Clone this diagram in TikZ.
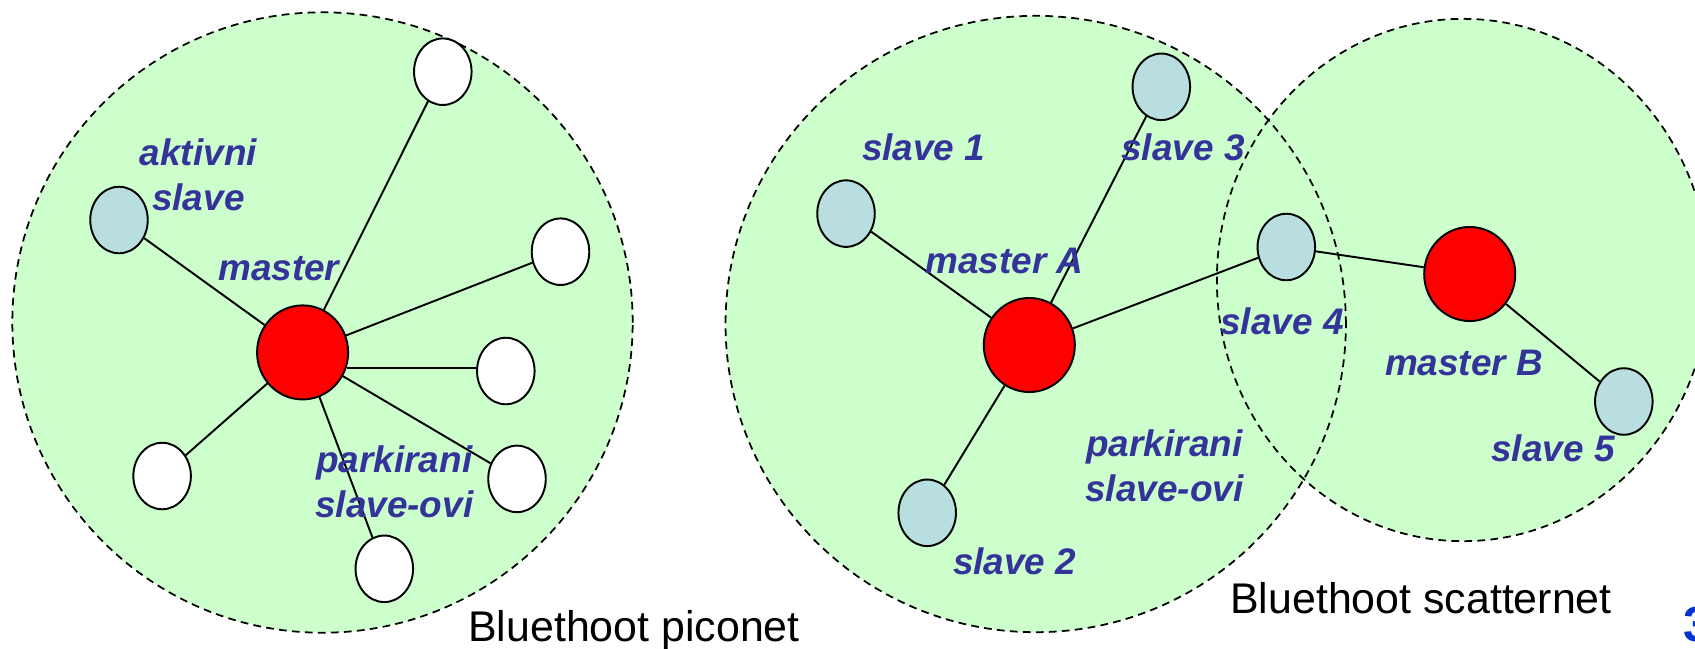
\documentclass[tikz,border=0pt]{standalone}
\usepackage{fontspec}
\setmainfont{Liberation Sans}
\usetikzlibrary{calc, shapes}

\definecolor{zonegreen}{HTML}{CCFFCC}
\definecolor{slaveblue}{HTML}{B9DEE0}
\definecolor{labelblue}{HTML}{333399}
\definecolor{pageblue}{HTML}{0033CC}

\begin{document}
\begin{tikzpicture}[x = 0.01cm, y = -0.01cm,
        zone/.style = {dash pattern = on 2.2pt off 1.5pt, line width = 0.5pt},
        masternode/.style = {draw, ellipse, fill = red, minimum width = 0.91cm, minimum height = 0.94cm, inner sep = 0pt, line width = 0.55pt},
        slavenode/.style = {draw, ellipse, minimum width = 0.575cm, minimum height = 0.665cm, inner sep = 0pt, line width = 0.55pt},
        link/.style = {black, line width = 0.55pt},
        lbl/.style = {text = labelblue, font = \fontsize{10.5}{12.75}\selectfont\bfseries\itshape, inner sep = 0pt, align = center},
        caption/.style = {font = \fontsize{12.2}{14}\selectfont, inner sep = 0pt}]

            \useasboundingbox (0, 0) rectangle (1695, 648);
            \clip (0, 0) rectangle (1695, 648);

            % ranges
            \fill[zonegreen] (322.5, 322.5) ellipse [x radius = 3.10cm, y radius = 3.10cm];
            \fill[zonegreen] (1035.7, 324) ellipse [x radius = 3.10cm, y radius = 3.08cm];
            \fill[zonegreen] (1463, 280) ellipse [x radius = 2.46cm, y radius = 2.61cm];
            \draw[zone] (322.5, 322.5) ellipse [x radius = 3.10cm, y radius = 3.10cm];
            \draw[zone] (1035.7, 324) ellipse [x radius = 3.10cm, y radius = 3.08cm];
            \draw[zone] (1463, 280) ellipse [x radius = 2.46cm, y radius = 2.61cm];

            % piconet
            \node[masternode] (mst) at (302.6, 352.4) {};
            \node[slavenode, fill = slaveblue] (act) at (119, 220) {};
            \node[slavenode, fill = white] (pk1) at (442.8, 71.7) {};
            \node[slavenode, fill = white] (pk2) at (560.5, 251.7) {};
            \node[slavenode, fill = white] (pk3) at (505.8, 371) {};
            \node[slavenode, fill = white] (pk4) at (517, 478.9) {};
            \node[slavenode, fill = white] (pk5) at (384.3, 568.8) {};
            \node[slavenode, fill = white] (pk6) at (162.1, 476) {};

            \foreach \p in {act, pk1, pk2, pk4, pk5, pk6} {
                \draw[link] (mst) -- (\p);
            }
            \draw[link] (mst.-19) -- (mst.-19 -| pk3.west);

            % scatternet
            \node[masternode] (mA) at (1029.3, 345) {};
            \node[masternode] (mB) at (1469.7, 274) {};
            \node[slavenode, fill = slaveblue] (s1) at (846, 213.6) {};
            \node[slavenode, fill = slaveblue] (s2) at (927.2, 512.8) {};
            \node[slavenode, fill = slaveblue] (s3) at (1161.3, 86.8) {};
            \node[slavenode, fill = slaveblue] (s4) at (1286.3, 247) {};
            \node[slavenode, fill = slaveblue] (s5) at (1623.8, 401.5) {};

            \foreach \s in {s1, s2, s3, s4} {
                \draw[link] (mA) -- (\s);
            }
            \draw[link] (s4) -- (mB);
            \draw[link] (mB) -- (s5);

            % labels
            \node[lbl] (lAct) at (198.4, 174.7) {aktivni\\slave};
            \node[lbl, anchor = base] (lMst) at (278.8, 280.3) {master};
            \node[lbl] (lPk) at (394.3, 481.5) {parkirani\\slave-ovi};

            \node[lbl, anchor = base] (lS1) at (923.6, 160.3) {slave 1};
            \node[lbl, anchor = base] (lS3) at (1183, 160.3) {slave 3};
            \node[lbl, anchor = base] (lMA) at (1004.6, 273.6) {master A};
            \node[lbl, anchor = base] (lS4) at (1282, 334.7) {slave 4};
            \node[lbl, anchor = base] (lMB) at (1464, 375) {master B};
            \node[lbl] (lPk2) at (1164.4, 465.4) {parkirani\\slave-ovi};
            \node[lbl, anchor = base] (lS2) at (1014.7, 574.4) {slave 2};
            \node[lbl, anchor = base] (lS5) at (1553, 461.4) {slave 5};

            \node[caption, anchor = base] (cPico) at (634, 641) {Bluethoot piconet};
            \node[caption, anchor = base] (cScat) at (1421, 613.3) {Bluethoot scatternet};
            \node[anchor = base west, inner sep = 0pt, text = pageblue, font = \fontsize{14}{16}\selectfont\bfseries] (pg) at (1683, 641) {3};

        \end{tikzpicture}
\end{document}
